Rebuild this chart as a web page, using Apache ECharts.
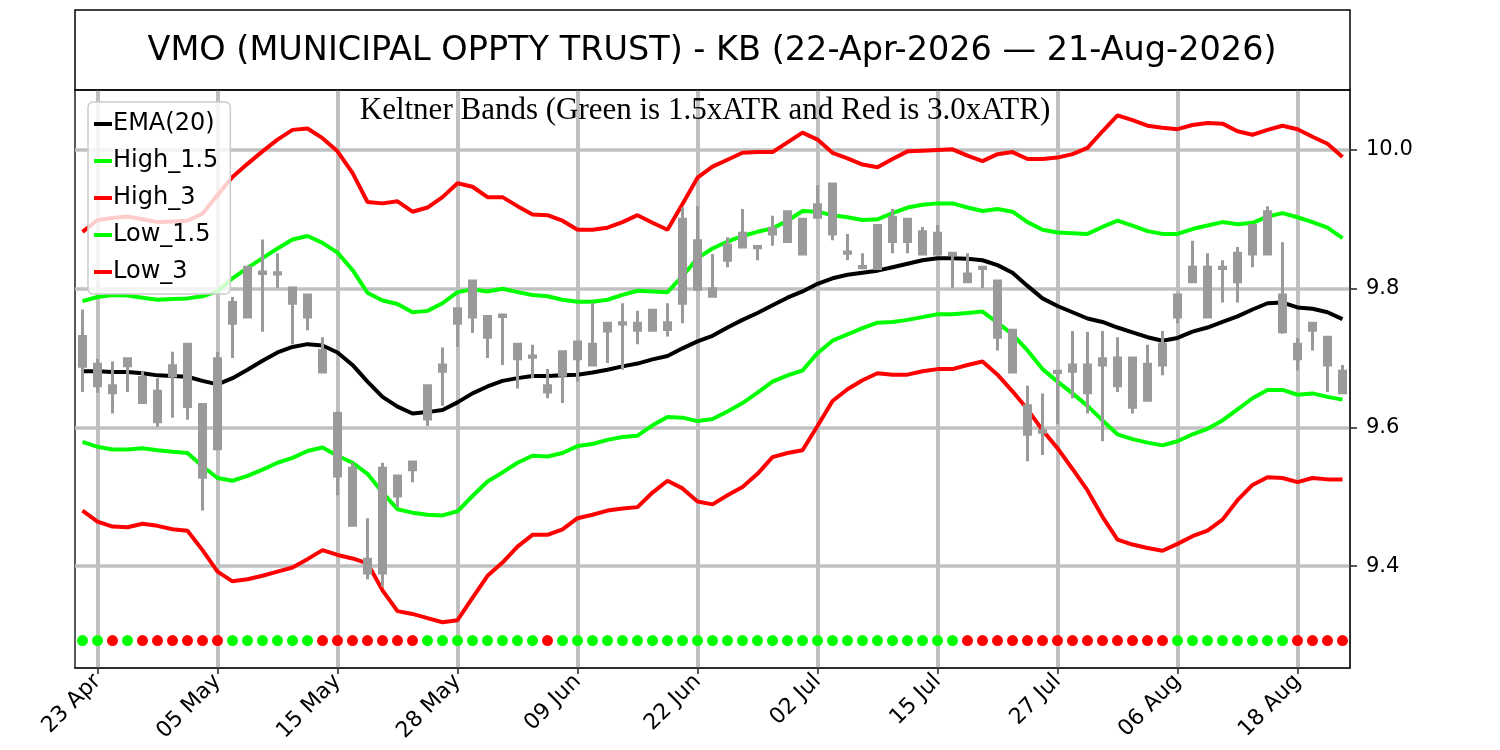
<!DOCTYPE html>
<html>
<head>
<meta charset="utf-8">
<title>VMO - Keltner Bands</title>
<script src="https://cdn.jsdelivr.net/npm/echarts@6/dist/echarts.min.js"></script>
<style>
    html, body { margin: 0; padding: 0; background: #ffffff; }
    #chart { width: 1500px; height: 750px; }
</style>
</head>
<body>
<div id="chart"></div>
<script>
// trading day index -> date label (only the labelled days)
var TICK_POS = [1, 9, 17, 25, 33, 41, 49, 57, 65, 73, 81];
var TICK_LABELS = ['23 Apr', '05 May', '15 May', '28 May', '09 Jun', '22 Jun',
    '02 Jul', '15 Jul', '27 Jul', '06 Aug', '18 Aug'];
var PRICE_TICKS = [9.4, 9.6, 9.8, 10.0];

// daily candles, 22-Apr-2026 .. 21-Aug-2026 (85 sessions)
var OPEN = [9.731, 9.660, 9.660, 9.689, 9.672, 9.652, 9.689, 9.720, 9.633, 9.699,
    9.750, 9.759, 9.822, 9.821, 9.779, 9.759, 9.711, 9.620, 9.541, 9.410,
    9.541, 9.530, 9.550, 9.612, 9.681, 9.750, 9.759, 9.730, 9.760, 9.699,
    9.701, 9.660, 9.675, 9.699, 9.690, 9.739, 9.749, 9.740, 9.740, 9.741,
    9.779, 9.799, 9.789, 9.841, 9.860, 9.859, 9.879, 9.868, 9.850, 9.903,
    9.879, 9.851, 9.830, 9.829, 9.868, 9.868, 9.850, 9.850, 9.849, 9.821,
    9.831, 9.811, 9.740, 9.631, 9.595, 9.681, 9.690, 9.690, 9.699, 9.700,
    9.700, 9.691, 9.720, 9.759, 9.810, 9.759, 9.829, 9.810, 9.850, 9.850,
    9.738, 9.720, 9.750, 9.730, 9.681];
var CLOSE = [9.688, 9.691, 9.650, 9.699, 9.636, 9.608, 9.674, 9.630, 9.528, 9.569,
    9.780, 9.831, 9.824, 9.823, 9.801, 9.791, 9.680, 9.530, 9.459, 9.390,
    9.390, 9.501, 9.539, 9.660, 9.690, 9.771, 9.811, 9.760, 9.762, 9.720,
    9.703, 9.651, 9.709, 9.723, 9.720, 9.750, 9.751, 9.750, 9.769, 9.751,
    9.900, 9.869, 9.800, 9.863, 9.880, 9.861, 9.887, 9.911, 9.900, 9.921,
    9.951, 9.853, 9.832, 9.891, 9.903, 9.900, 9.882, 9.880, 9.851, 9.810,
    9.829, 9.730, 9.680, 9.590, 9.593, 9.679, 9.681, 9.650, 9.690, 9.660,
    9.629, 9.639, 9.690, 9.791, 9.831, 9.831, 9.831, 9.851, 9.891, 9.911,
    9.791, 9.699, 9.740, 9.690, 9.650];
var LOW = [9.651, 9.650, 9.620, 9.651, 9.634, 9.601, 9.614, 9.611, 9.480, 9.569,
    9.700, 9.759, 9.738, 9.801, 9.720, 9.740, 9.680, 9.502, 9.459, 9.381,
    9.370, 9.485, 9.521, 9.602, 9.631, 9.716, 9.736, 9.700, 9.690, 9.656,
    9.671, 9.642, 9.635, 9.666, 9.690, 9.693, 9.683, 9.720, 9.740, 9.731,
    9.750, 9.799, 9.789, 9.831, 9.860, 9.841, 9.862, 9.868, 9.850, 9.903,
    9.870, 9.841, 9.830, 9.829, 9.851, 9.851, 9.850, 9.850, 9.801, 9.810,
    9.801, 9.711, 9.680, 9.551, 9.560, 9.605, 9.642, 9.620, 9.580, 9.651,
    9.620, 9.639, 9.675, 9.750, 9.810, 9.759, 9.780, 9.780, 9.831, 9.850,
    9.735, 9.682, 9.711, 9.651, 9.650];
var HIGH = [9.770, 9.699, 9.695, 9.699, 9.681, 9.671, 9.709, 9.720, 9.633, 9.709,
    9.788, 9.831, 9.871, 9.851, 9.801, 9.791, 9.730, 9.623, 9.549, 9.469,
    9.549, 9.530, 9.550, 9.660, 9.715, 9.771, 9.811, 9.760, 9.762, 9.720,
    9.719, 9.684, 9.709, 9.723, 9.779, 9.750, 9.779, 9.768, 9.769, 9.779,
    9.917, 9.919, 9.850, 9.874, 9.915, 9.863, 9.905, 9.911, 9.900, 9.949,
    9.951, 9.879, 9.851, 9.891, 9.915, 9.900, 9.889, 9.892, 9.851, 9.851,
    9.832, 9.811, 9.740, 9.660, 9.649, 9.681, 9.739, 9.738, 9.739, 9.730,
    9.700, 9.719, 9.739, 9.791, 9.869, 9.851, 9.841, 9.860, 9.891, 9.919,
    9.867, 9.729, 9.750, 9.730, 9.690];

// Keltner bands
var EMA20 = [9.681, 9.681, 9.680, 9.680, 9.678, 9.675, 9.674, 9.673, 9.667, 9.662,
    9.671, 9.683, 9.696, 9.708, 9.716, 9.720, 9.718, 9.708, 9.690, 9.666,
    9.644, 9.630, 9.620, 9.622, 9.625, 9.636, 9.649, 9.659, 9.667, 9.671,
    9.674, 9.674, 9.675, 9.676, 9.679, 9.683, 9.688, 9.692, 9.698, 9.703,
    9.714, 9.724, 9.732, 9.744, 9.755, 9.765, 9.776, 9.787, 9.796, 9.807,
    9.815, 9.820, 9.823, 9.826, 9.831, 9.836, 9.841, 9.844, 9.844, 9.843,
    9.841, 9.834, 9.823, 9.804, 9.786, 9.775, 9.766, 9.757, 9.752, 9.744,
    9.737, 9.730, 9.725, 9.729, 9.738, 9.744, 9.752, 9.760, 9.770, 9.779,
    9.780, 9.773, 9.771, 9.766, 9.756];
var HIGH_15 = [9.782, 9.788, 9.791, 9.790, 9.787, 9.784, 9.785, 9.786, 9.789, 9.796,
    9.815, 9.830, 9.844, 9.858, 9.871, 9.876, 9.866, 9.852, 9.827, 9.794,
    9.783, 9.778, 9.766, 9.768, 9.779, 9.795, 9.799, 9.796, 9.800, 9.795,
    9.791, 9.789, 9.784, 9.781, 9.781, 9.784, 9.791, 9.797, 9.796, 9.795,
    9.818, 9.844, 9.858, 9.868, 9.876, 9.882, 9.887, 9.898, 9.912, 9.911,
    9.906, 9.903, 9.899, 9.900, 9.909, 9.917, 9.921, 9.923, 9.923, 9.917,
    9.912, 9.915, 9.911, 9.896, 9.885, 9.881, 9.880, 9.879, 9.889, 9.898,
    9.891, 9.883, 9.879, 9.879, 9.886, 9.891, 9.896, 9.893, 9.895, 9.904,
    9.909, 9.903, 9.896, 9.888, 9.873];
var HIGH_3 = [9.882, 9.899, 9.902, 9.904, 9.900, 9.896, 9.897, 9.898, 9.908, 9.935,
    9.961, 9.980, 9.998, 10.015, 10.029, 10.031, 10.017, 9.998, 9.967, 9.925,
    9.923, 9.926, 9.911, 9.917, 9.932, 9.952, 9.947, 9.932, 9.932, 9.919,
    9.907, 9.906, 9.898, 9.885, 9.885, 9.888, 9.896, 9.906, 9.895, 9.885,
    9.922, 9.960, 9.976, 9.986, 9.996, 9.997, 9.997, 10.011, 10.025, 10.015,
    9.996, 9.988, 9.979, 9.975, 9.987, 9.998, 9.999, 10.000, 10.001, 9.992,
    9.984, 9.994, 9.997, 9.987, 9.987, 9.989, 9.994, 10.003, 10.027, 10.050,
    10.043, 10.035, 10.032, 10.030, 10.036, 10.039, 10.038, 10.027, 10.022, 10.029,
    10.035, 10.030, 10.019, 10.009, 9.990];
var LOW_15 = [9.579, 9.572, 9.568, 9.568, 9.570, 9.567, 9.565, 9.563, 9.544, 9.527,
    9.523, 9.530, 9.539, 9.549, 9.556, 9.566, 9.571, 9.559, 9.549, 9.533,
    9.506, 9.482, 9.477, 9.474, 9.473, 9.479, 9.501, 9.522, 9.535, 9.549,
    9.559, 9.558, 9.563, 9.573, 9.576, 9.582, 9.586, 9.588, 9.603, 9.615,
    9.614, 9.609, 9.612, 9.623, 9.635, 9.650, 9.666, 9.675, 9.682, 9.707,
    9.725, 9.734, 9.743, 9.751, 9.752, 9.755, 9.759, 9.763, 9.763, 9.765,
    9.767, 9.751, 9.734, 9.711, 9.684, 9.666, 9.649, 9.631, 9.610, 9.590,
    9.583, 9.578, 9.574, 9.580, 9.590, 9.598, 9.610, 9.626, 9.642, 9.654,
    9.654, 9.647, 9.649, 9.644, 9.640];
var LOW_3 = [9.480, 9.464, 9.457, 9.456, 9.461, 9.458, 9.453, 9.451, 9.423, 9.392,
    9.378, 9.381, 9.386, 9.392, 9.398, 9.410, 9.423, 9.416, 9.411, 9.404,
    9.365, 9.335, 9.331, 9.325, 9.319, 9.322, 9.354, 9.386, 9.405, 9.428,
    9.445, 9.445, 9.453, 9.469, 9.474, 9.480, 9.483, 9.485, 9.506, 9.523,
    9.512, 9.493, 9.489, 9.502, 9.514, 9.533, 9.557, 9.563, 9.567, 9.602,
    9.638, 9.655, 9.668, 9.678, 9.676, 9.676, 9.681, 9.684, 9.684, 9.690,
    9.695, 9.676, 9.652, 9.626, 9.596, 9.570, 9.540, 9.509, 9.471, 9.438,
    9.431, 9.426, 9.422, 9.432, 9.443, 9.451, 9.467, 9.495, 9.517, 9.528,
    9.527, 9.521, 9.527, 9.525, 9.525];

// signal row under the chart: G = green dot, R = red dot
var SIGNAL = ('GGRG' + 'RRRRRR' + 'GGGGGG' + 'RRRRRRR' + 'GGGGGGGG' + 'R' +
    'GGGGGGGGGGGGGGGGGGGGGGGGGGG' + 'RRRRRRRRRRRRRR' + 'GGGGGGGG' + 'RRRR').split('');
var SIGNAL_LEVEL = 9.2925;
</script>
<script>
(function (win) {

    var FONT = 'DejaVu Sans';
    var GRID_COLOR = '#c0c0c0';

    var Main = function () {
    };
    var p = Main.prototype;
    /** chart instance */
    p.chart = null;

    p.init = function (dom) {
        this.chart = echarts.init(dom, null, { renderer: 'canvas' });
    };

    /** one band / average line */
    p.lineSeries = function (name, values, color) {
        return {
            name: name,
            type: 'line',
            data: values.map(function (v, i) { return [i, v]; }),
            symbol: 'none',
            color: color,
            lineStyle: { width: 4, color: color },
            z: 2
        };
    };

    p.render = function () {
        var candles = OPEN.map(function (o, i) {
            return [i, o, CLOSE[i], LOW[i], HIGH[i]];
        });
        var dots = SIGNAL.map(function (s, i) {
            return {
                value: [i, SIGNAL_LEVEL],
                itemStyle: { color: s === 'G' ? '#00ff00' : '#ff0000', opacity: 1 }
            };
        });

        var option = {
            animation: false,
            backgroundColor: '#ffffff',
            textStyle: { fontFamily: FONT },
            graphic: [
                {
                    type: 'rect',
                    shape: { x: 75, y: 10, width: 1275, height: 80 },
                    style: { fill: 'none', stroke: '#000', lineWidth: 1.5 },
                    z: 10
                },
                {
                    type: 'text',
                    x: 712, y: 51,
                    style: {
                        text: 'VMO (MUNICIPAL OPPTY TRUST) - KB (22-Apr-2026 \u2014 21-Aug-2026)',
                        fontFamily: FONT, fontSize: 33.5, fill: '#000',
                        align: 'center', verticalAlign: 'middle'
                    },
                    z: 10
                },
                {
                    type: 'text',
                    x: 705, y: 111,
                    style: {
                        text: 'Keltner Bands (Green is 1.5xATR and Red is 3.0xATR)',
                        fontFamily: 'Liberation Serif', fontSize: 31, fill: '#000',
                        align: 'center', verticalAlign: 'middle'
                    },
                    z: 10
                }
            ],
            legend: {
                data: ['EMA(20)', 'High_1.5', 'High_3', 'Low_1.5', 'Low_3'],
                orient: 'vertical',
                left: 88,
                top: 102,
                icon: 'rect',
                itemWidth: 18,
                itemHeight: 4,
                itemGap: 13,
                padding: [10, 12, 10, 6],
                backgroundColor: 'rgba(255,255,255,0.8)',
                borderColor: '#cccccc',
                borderWidth: 1.5,
                borderRadius: 5,
                textStyle: { fontFamily: FONT, fontSize: 24, color: '#000', padding: [0, 0, 0, -4] }
            },
            grid: {
                left: 75, right: 150, top: 90, bottom: 82,
                show: true, borderColor: '#222', borderWidth: 1.5,
                backgroundColor: 'transparent'
            },
            xAxis: {
                type: 'value',
                min: -0.5,
                max: 84.5,
                axisLine: { show: true, onZero: false, lineStyle: { color: '#222', width: 1.5 } },
                axisTick: { show: true, customValues: TICK_POS, length: 6, lineStyle: { color: '#222', width: 1.5 } },
                axisLabel: {
                    customValues: TICK_POS,
                    rotate: 45,
                    fontSize: 22,
                    fontFamily: FONT,
                    color: '#000',
                    margin: 10,
                    formatter: function (v) {
                        var k = TICK_POS.indexOf(Math.round(v));
                        return k < 0 ? '' : TICK_LABELS[k];
                    }
                },
                splitLine: { show: true, lineStyle: { color: GRID_COLOR, width: 4 } }
            },
            yAxis: {
                type: 'value',
                position: 'right',
                min: 9.253,
                max: 10.0865,
                axisLine: { show: true, onZero: false, lineStyle: { color: '#222', width: 1.5 } },
                axisTick: { show: true, customValues: PRICE_TICKS, length: 7, lineStyle: { color: '#222', width: 1.5 } },
                axisLabel: {
                    customValues: PRICE_TICKS,
                    fontSize: 21,
                    fontFamily: FONT,
                    color: '#000',
                    margin: 16,
                    align: 'left',
                    formatter: function (v) { return v.toFixed(1); }
                },
                splitLine: { show: true, lineStyle: { color: GRID_COLOR, width: 3.5 } }
            },
            series: [
                this.lineSeries('EMA(20)', EMA20, '#000000'),
                this.lineSeries('High_1.5', HIGH_15, '#00ff00'),
                this.lineSeries('High_3', HIGH_3, '#ff0000'),
                this.lineSeries('Low_1.5', LOW_15, '#00ff00'),
                this.lineSeries('Low_3', LOW_3, '#ff0000'),
                {
                    name: 'price',
                    type: 'candlestick',
                    data: candles,
                    encode: { x: 0, y: [1, 2, 3, 4] },
                    barWidth: 7,
                    itemStyle: {
                        color: '#9a9a9a', color0: '#9a9a9a',
                        borderColor: '#9a9a9a', borderColor0: '#9a9a9a',
                        borderWidth: 3
                    },
                    z: 3
                },
                {
                    name: 'signal',
                    type: 'scatter',
                    data: dots,
                    symbolSize: 11,
                    itemStyle: { opacity: 1 },
                    z: 3
                }
            ]
        };
        this.chart.setOption(option);
    };

    win.kb = win.kb || {};
    win.kb.Main = Main;

    var main = new Main();
    main.init(document.getElementById('chart'));
    main.render();
})(window);
</script>
</body>
</html>
